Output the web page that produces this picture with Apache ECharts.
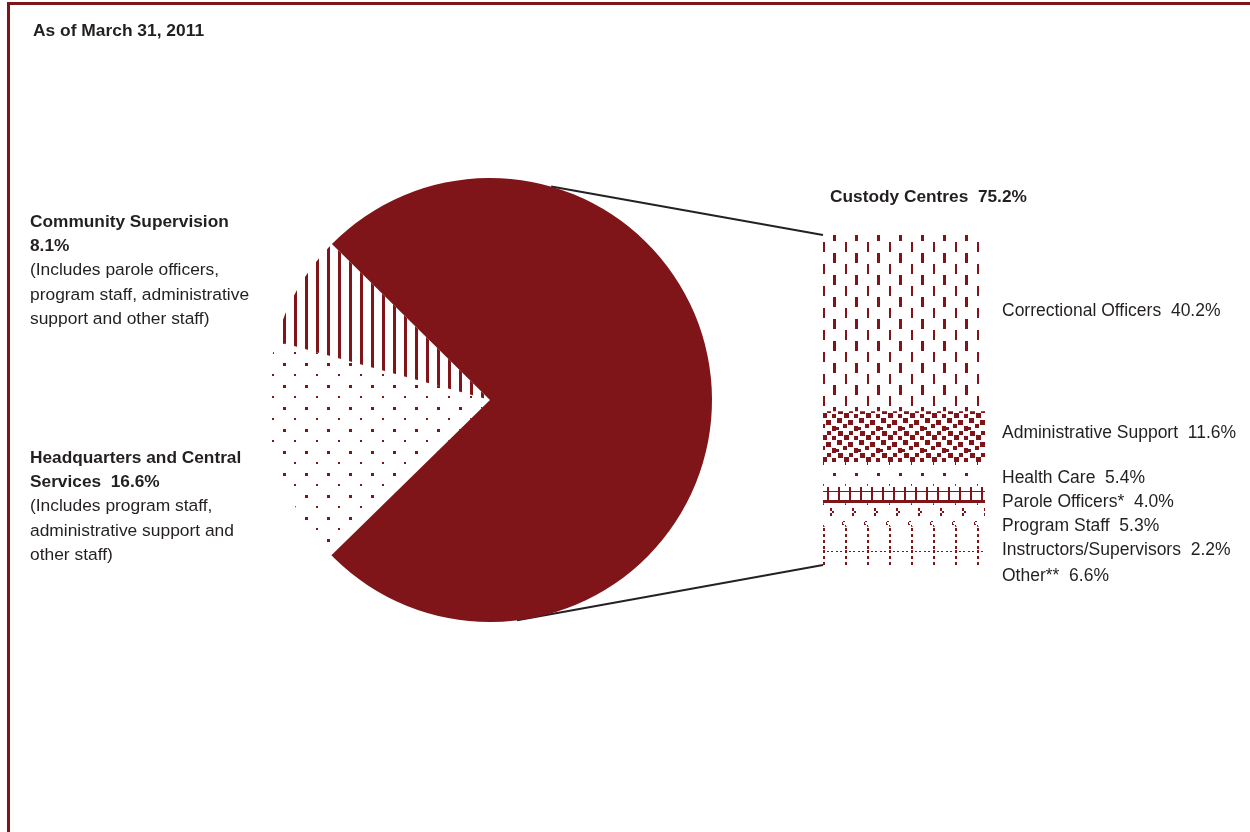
<!DOCTYPE html>
<html>
<head>
<meta charset="utf-8">
<script src="https://cdn.jsdelivr.net/npm/echarts@6/dist/echarts.min.js"></script>
<style>
  html, body { margin: 0; padding: 0; background: #fff; }
  #chart { width: 1250px; height: 832px; }
</style>
</head>
<body>
<div id="chart"></div>
<script>
// ---- data ----
const titleText = 'As of March 31, 2011';

const pieNames = ['Custody Centres', 'Headquarters and Central Services', 'Community Supervision'];
const pieValues = [75.2, 16.6, 8.1];
const pieHeads = ['Custody Centres  ', 'Headquarters and Central\nServices  ', 'Community Supervision\n'];
const pieNotes = [
  '',
  '(Includes program staff,\nadministrative support and\nother staff)',
  '(Includes parole officers,\nprogram staff, administrative\nsupport and other staff)'
];

const custodyGroups = ['Correctional Officers', 'Administrative Support', 'Health Care',
  'Parole Officers*', 'Program Staff', 'Instructors/Supervisors', 'Other**'];
const custodyValues = [40.2, 11.6, 5.4, 4.0, 5.3, 2.2, 6.6];

// ---- layout & style ----
const RED = '#7f1518';
const TEXT = '#231f20';
const FONT = "'Liberation Sans', Arial, sans-serif";
const PIE_CENTER = [490, 400];
const PIE_R = 222;
const PIE_START = 135.4;
const BAR = { left: 823, top: 235, width: 162, height: 330 };
const pieLabelPos = [[830, 185], [30, 446], [30, 210]];
const barLabelX = 1002;
const barLabelY = [311, 433, 478, 502, 526, 550, 576];

// small canvas tiles used as repeating fills
function tile(w, h, rects) {
  const c = document.createElement('canvas');
  c.width = w; c.height = h;
  const g = c.getContext('2d');
  g.fillStyle = RED;
  rects.forEach(r => g.fillRect(r[0], r[1], r[2], r[3]));
  return { image: c, repeat: 'repeat' };
}

const piePatterns = [
  RED,
  tile(22, 22, [[19, 11, 3, 3], [8, 0, 2, 2]]),   // dots
  tile(11, 11, [[8, 0, 3, 11]])                    // vertical stripes
];

const barPatterns = [
  tile(22, 22, [[9, 0, 2, 10], [19, 11, 3, 10]]),
  tile(22, 22, [[1, 0, 5, 5], [12, 2, 5, 5], [7, 6, 4, 4], [18, 8, 4, 5], [0, 9, 3, 3],
                [2, 13, 5, 5], [13, 13, 4, 4], [8, 17, 5, 5], [18, 18, 4, 4]]),
  tile(22, 22, [[19, 11, 3, 3], [9, 0, 1, 3]]),
  tile(11, 22, [[2, 3, 2, 14], [0, 7, 11, 1], [0, 16, 11, 3]]),
  tile(22, 22, [[16, 2, 2, 3], [18, 5, 2, 2], [16, 7, 2, 3], [7, 15, 2, 1], [6, 16, 1, 2], [6, 18, 2, 1], [9, 19, 1, 2]]),
  tile(22, 22, [[9, 0, 2, 3], [9, 6, 2, 3], [9, 12, 2, 3], [9, 18, 2, 3]]),
  tile(22, 22, [[9, 0, 2, 3], [9, 6, 2, 3], [9, 12, 2, 3], [9, 18, 2, 3],
                [0, 1, 2, 1], [4, 1, 2, 1], [13, 1, 2, 1], [17, 1, 2, 1]])
];

const chart = echarts.init(document.getElementById('chart'), null, { renderer: 'canvas' });

const custodyTotal = custodyValues.reduce((a, b) => a + b, 0);

const barSeries = custodyGroups.map((name, i) => ({
  type: 'bar',
  name: name,
  stack: 'custody',
  data: [custodyValues[i]],
  barWidth: '100%',
  itemStyle: { color: barPatterns[i] },
  emphasis: { disabled: true },
  label: {
    show: true,
    position: 'right',
    formatter: () => name + '  ' + custodyValues[i].toFixed(1) + '%',
    fontFamily: FONT, fontSize: 17.5, color: TEXT
  },
  labelLayout: () => ({ x: barLabelX, y: barLabelY[i], align: 'left', verticalAlign: 'middle' })
}));

chart.setOption({
  animation: false,
  title: {
    text: titleText, left: 33, top: 23, padding: 0,
    textStyle: { fontFamily: FONT, fontSize: 17.4, fontWeight: 'bold', color: TEXT }
  },
  grid: { left: BAR.left, top: BAR.top, width: BAR.width, height: BAR.height },
  xAxis: { type: 'category', data: ['Custody Centres'], show: false },
  yAxis: { type: 'value', inverse: true, min: 0, max: custodyTotal, show: false },
  series: [
    {
      type: 'pie',
      center: PIE_CENTER,
      radius: PIE_R,
      startAngle: PIE_START,
      clockwise: true,
      emphasis: { disabled: true },
      itemStyle: { borderWidth: 0 },
      labelLine: { show: false },
      label: {
        show: true,
        position: 'outside',
        overflow: 'none',
        formatter: p => {
          const i = p.dataIndex;
          const heads = (pieHeads[i] + pieValues[i].toFixed(1) + '%').split('\n').map(s => '{b|' + s + '}');
          const notes = pieNotes[i] ? pieNotes[i].split('\n').map(s => '{n|' + s + '}') : [];
          return heads.concat(notes).join('\n');
        },
        rich: {
          b: { fontFamily: FONT, fontSize: 17.3, fontWeight: 'bold', color: TEXT, lineHeight: 24 },
          n: { fontFamily: FONT, fontSize: 17.4, color: TEXT, lineHeight: 24.5 }
        }
      },
      labelLayout: p => ({ x: pieLabelPos[p.dataIndex][0], y: pieLabelPos[p.dataIndex][1], align: 'left', verticalAlign: 'top' }),
      data: pieNames.map((n, i) => ({ name: n, value: pieValues[i], itemStyle: { color: piePatterns[i] } }))
    }
  ].concat(barSeries)
});

// frame and the connectors from the custody slice to its breakdown column
const barTop = chart.convertToPixel({ xAxisIndex: 0, yAxisIndex: 0 }, [0, 0])[1];
const barBottom = chart.convertToPixel({ xAxisIndex: 0, yAxisIndex: 0 }, [0, custodyTotal])[1];
function rim(deg) {
  const a = deg * Math.PI / 180;
  return [PIE_CENTER[0] + PIE_R * Math.cos(a), PIE_CENTER[1] - PIE_R * Math.sin(a)];
}
const pTop = rim(74), pBot = rim(-83);
chart.setOption({
  graphic: [
    { type: 'line', shape: { x1: 7, y1: 3.5, x2: 1250, y2: 3.5 }, style: { stroke: RED, lineWidth: 3 }, silent: true },
    { type: 'line', shape: { x1: 8.5, y1: 2, x2: 8.5, y2: 832 }, style: { stroke: RED, lineWidth: 3 }, silent: true },
    { type: 'line', shape: { x1: pTop[0], y1: pTop[1], x2: BAR.left, y2: barTop }, style: { stroke: '#222', lineWidth: 2 }, silent: true },
    { type: 'line', shape: { x1: pBot[0], y1: pBot[1], x2: BAR.left, y2: barBottom }, style: { stroke: '#222', lineWidth: 2 }, silent: true }
  ]
});
</script>
</body>
</html>
